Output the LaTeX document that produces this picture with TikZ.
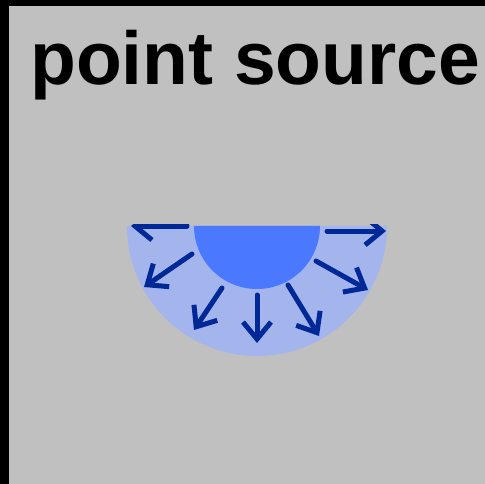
\documentclass[tikz,border=0pt]{standalone}
\usepackage{fontspec}
\setmainfont{Liberation Sans}
\usetikzlibrary{arrows.meta}
\definecolor{panel}{RGB}{192,192,192}
\definecolor{shell}{RGB}{164,180,236}
\definecolor{core}{RGB}{74,120,255}
\definecolor{raycol}{RGB}{0,40,150}
\tikzset{
  ray/.style={draw=raycol, line width=5pt, line cap=round, line join=round,
    -{Straight Barb[length=17pt,width=28pt]}},
}
\begin{document}
\begin{tikzpicture}[x=1pt,y=-1pt]
\useasboundingbox (0,0) rectangle (485,484);
% panel with its black frame on top and left
\fill[panel] (0,0) rectangle (485,484);
\fill[black] (0,0) rectangle (9,484);
\fill[black] (0,0) rectangle (485,6);
% heading
\node[anchor=base west, inner sep=0, font=\bfseries\fontsize{75}{75}\selectfont] (title) at (30,85) {point source};
% emission region (lower half plane) and the source
\coordinate (c) at (257,226);
\fill[shell] (127,226) arc[start angle=180, end angle=0, radius=130] -- cycle;
\fill[core] (194,226) arc[start angle=180, end angle=0, radius=63] -- cycle;
% outgoing rays, cut at the flat edge
\begin{scope}
\clip (110,225) rectangle (410,380);
\draw[ray] (187,226) -- (131,226);
\draw[ray] (192,254) -- (144,287);
\draw[ray] (222,288) -- (194,330);
\draw[ray] (257,295) -- (257,343);
\draw[ray] (288,285) -- (319,336);
\draw[ray] (316,261) -- (368,290);
\draw[ray] (327,231) -- (386,231);
\end{scope}
\end{tikzpicture}
\end{document}
